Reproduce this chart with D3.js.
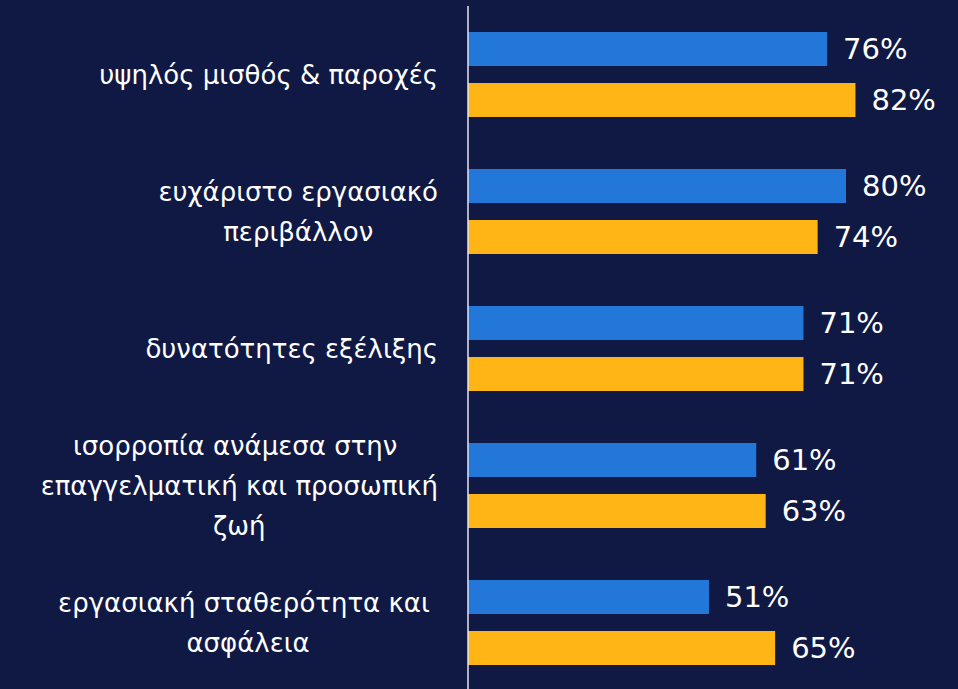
<!DOCTYPE html>
<html>
<head>
<meta charset="utf-8">
<script src="https://cdn.jsdelivr.net/npm/d3@7"></script>
<style>
  body { margin: 0; background: #101944; }
  svg { display: block; }
  .cat { white-space: pre; }
</style>
</head>
<body>
<div id="chart"></div>
<script>
// categories, each split into lines as in the original
var categories = [
  ['υψηλός μισθός & παροχές'],
  ['ευχάριστο εργασιακό', 'περιβάλλον'],
  ['δυνατότητες εξέλιξης'],
  ['ισορροπία ανάμεσα στην ', 'επαγγελματική και προσωπική', 'ζωή'],
  ['εργασιακή σταθερότητα και ', 'ασφάλεια']
]
var seriesNames = ['blue', 'yellow']
var blueValues = [76, 80, 71, 61, 51]
var yellowValues = [82, 74, 71, 63, 65]

var width = 958
var height = 689

var svg = d3
  .select('#chart')
  .append('svg')
  .attr('width', width)
  .attr('height', height)

svg
  .append('rect')
  .attr('width', width)
  .attr('height', height)
  .attr('fill', '#101944')

var xScale = d3
  .scaleLinear()
  .domain([0, 100])
  .range([468, 940.5])

var yScale = d3
  .scaleBand()
  .domain(d3.range(categories.length))
  .range([32, 665])
  .paddingInner(52 / 137)

var innerScale = d3
  .scaleBand()
  .domain(seriesNames)
  .range([0, yScale.bandwidth()])
  .paddingInner(1 / 3)

var colors = d3
  .scaleOrdinal()
  .domain(seriesNames)
  .range(['#2277d8', '#ffb515'])

var rows = categories.map(function(c, i) {
  return {
    i: i,
    lines: c,
    values: [
      { series: 'blue', value: blueValues[i] },
      { series: 'yellow', value: yellowValues[i] }
    ]
  }
})

var groups = svg
  .selectAll('.group')
  .data(rows)
  .enter()
  .append('g')
  .attr('class', 'group')
  .attr('transform', d => 'translate(0,' + yScale(d.i) + ')')

groups
  .selectAll('.bar')
  .data(d => d.values)
  .enter()
  .append('rect')
  .attr('class', 'bar')
  .attr('x', xScale(0))
  .attr('y', d => innerScale(d.series))
  .attr('width', d => xScale(d.value) - xScale(0))
  .attr('height', innerScale.bandwidth())
  .attr('fill', d => colors(d.series))

groups
  .selectAll('.value')
  .data(d => d.values)
  .enter()
  .append('text')
  .attr('class', 'value')
  .attr('x', d => xScale(d.value) + 16)
  .attr('y', d => innerScale(d.series) + innerScale.bandwidth() / 2)
  .attr('dy', '0.36em')
  .attr('fill', 'white')
  .attr('font-family', 'DejaVu Sans')
  .attr('font-size', 29)
  .text(d => d.value + '%')

var lineHeight = 40
var labelRight = 438

// labels: block right-aligned, lines centred inside the block
groups.each(function(d) {
  var g = d3.select(this)
  var text = g
    .append('text')
    .attr('class', 'cat')
    .attr('text-anchor', 'middle')
    .attr('fill', 'white')
    .attr('font-family', 'DejaVu Sans')
    .attr('font-size', 26)

  var spans = text
    .selectAll('tspan')
    .data(d.lines)
    .enter()
    .append('tspan')
    .attr('y', (l, j) => yScale.bandwidth() / 2 + (j - (d.lines.length - 1) / 2) * lineHeight)
    .attr('dy', '0.36em')
    .text(l => l)

  var maxW = d3.max(spans.nodes(), n => n.getComputedTextLength())
  spans.attr('x', labelRight - maxW / 2)
})

// vertical axis line
svg
  .append('line')
  .attr('x1', xScale(0))
  .attr('x2', xScale(0))
  .attr('y1', 6)
  .attr('y2', height)
  .attr('stroke', '#e6e6ee')
  .attr('stroke-width', 1.5)
</script>
</body>
</html>
